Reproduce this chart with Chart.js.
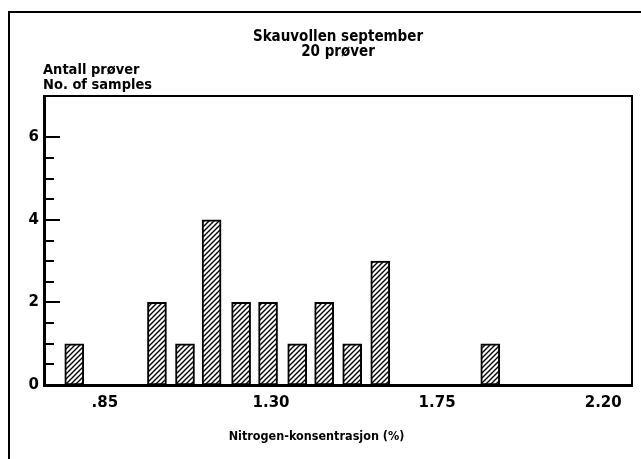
<!DOCTYPE html>
<html>
<head>
<meta charset="utf-8">
<script src="https://cdn.jsdelivr.net/npm/chart.js@4/dist/chart.umd.min.js"></script>
<style>
  html, body { margin: 0; padding: 0; background: #fff; }
  #wrap { width: 641px; height: 459px; }
</style>
</head>
<body>
<div id="wrap"><canvas id="chart-nitrogen" width="641" height="459"></canvas></div>
<script>
// histogram: bin centres (% N) and number of samples
const binCenters = [0.767, 0.991, 1.067, 1.139, 1.219, 1.292, 1.371, 1.444, 1.520, 1.596, 1.894];
const counts     = [1, 2, 1, 4, 2, 2, 1, 2, 1, 3, 1];

const xTicks      = [0.85, 1.30, 1.75, 2.20];
const xTickLabels = [".85", "1.30", "1.75", "2.20"];
const yLabelled   = [0, 2, 4, 6];
const yTickTop    = 6; // no ticks above this one

const titleLines  = ["Skauvollen september", "20 prøver"];
const yTitleLines = ["Antall prøver", "No. of samples"];
const xTitle      = "Nitrogen-konsentrasjon (%)";

const FONT = "'DejaVu Sans', sans-serif";
const NARROW = "'DejaVu Sans Condensed', 'DejaVu Sans', sans-serif";

function hatch() {
  const c = document.createElement("canvas");
  c.width = c.height = 5;
  const g = c.getContext("2d");
  g.fillStyle = "#fff";
  g.fillRect(0, 0, 5, 5);
  g.strokeStyle = "#000";
  g.lineWidth = 1.4;
  g.beginPath();
  g.moveTo(-1, 6); g.lineTo(6, -1);
  g.moveTo(-1, 1); g.lineTo(1, -1);
  g.moveTo(4, 6);  g.lineTo(6, 4);
  g.stroke();
  return g.createPattern(c, "repeat");
}

// frame, inward y ticks and the free texts
const decor = {
  id: "decor",
  afterDraw(chart) {
    const { ctx, chartArea: a, scales } = chart;
    const W = chart.width, H = chart.height;
    ctx.save();
    ctx.strokeStyle = "#000";
    ctx.lineCap = "square";

    // page border
    ctx.lineWidth = 2;
    ctx.beginPath();
    ctx.moveTo(W, 12); ctx.lineTo(9, 12); ctx.lineTo(9, H);
    ctx.stroke();

    // plot box top + right
    ctx.beginPath();
    ctx.moveTo(a.left, a.top); ctx.lineTo(a.right, a.top); ctx.lineTo(a.right, a.bottom);
    ctx.stroke();

    // y ticks drawn into the plot
    const y = scales.y;
    ctx.lineWidth = 2;
    y.ticks.filter(t => t.value <= yTickTop).forEach(t => {
      const py = Math.round(y.getPixelForValue(t.value));
      const len = yLabelled.includes(t.value) ? 15 : 9;
      ctx.beginPath();
      ctx.moveTo(a.left, py); ctx.lineTo(a.left + len, py);
      ctx.stroke();
    });

    ctx.fillStyle = "#000";
    ctx.textBaseline = "middle";

    ctx.font = "bold 15px " + NARROW;
    ctx.textAlign = "center";
    const cx = (a.left + a.right) / 2;
    ctx.fillText(titleLines[0], cx, 37);
    ctx.fillText(titleLines[1], cx, 52);

    ctx.font = "bold 14.5px " + NARROW;
    ctx.textAlign = "left";
    ctx.fillText(yTitleLines[0], a.left - 1, 70);
    ctx.fillText(yTitleLines[1], a.left - 1, 85);

    ctx.font = "bold 12.5px " + NARROW;
    ctx.textAlign = "center";
    ctx.fillText(xTitle, W / 2 - 4, 437);
    ctx.restore();
  }
};

new Chart(document.getElementById("chart-nitrogen").getContext("2d"), {
  type: "bar",
  data: {
    datasets: [{
      data: binCenters.map((x, i) => ({ x, y: counts[i] })),
      backgroundColor: hatch(),
      borderColor: "#000",
      borderWidth: 2,
      borderSkipped: false,
      barThickness: 19
    }]
  },
  options: {
    responsive: false,
    animation: false,
    layout: { padding: { left: 0, top: 96, right: 9, bottom: 0 } },
    plugins: { legend: { display: false }, tooltip: { enabled: false } },
    scales: {
      x: {
        type: "linear",
        offset: false,
        min: 0.685,
        max: 2.278,
        afterFit: s => { s.height = 74; },
        afterBuildTicks: s => { s.ticks = xTicks.map(v => ({ value: v })); },
        grid: { display: false, drawTicks: false, offset: false },
        border: { display: true, color: "#000", width: 3 },
        ticks: {
          autoSkip: false,
          maxRotation: 0,
          padding: 9,
          color: "#000",
          font: { family: FONT, size: 15, weight: "bold" },
          callback: (v, i) => xTickLabels[i]
        }
      },
      y: {
        min: 0,
        max: 7,
        afterFit: s => { s.width = 44; },
        grid: { display: false, drawTicks: false },
        border: { display: true, color: "#000", width: 3 },
        ticks: {
          stepSize: 0.5,
          autoSkip: false,
          padding: 5,
          color: "#000",
          font: { family: FONT, size: 15, weight: "bold" },
          callback: v => (yLabelled.includes(v) ? String(v) : "")
        }
      }
    }
  },
  plugins: [decor]
});
</script>
</body>
</html>
